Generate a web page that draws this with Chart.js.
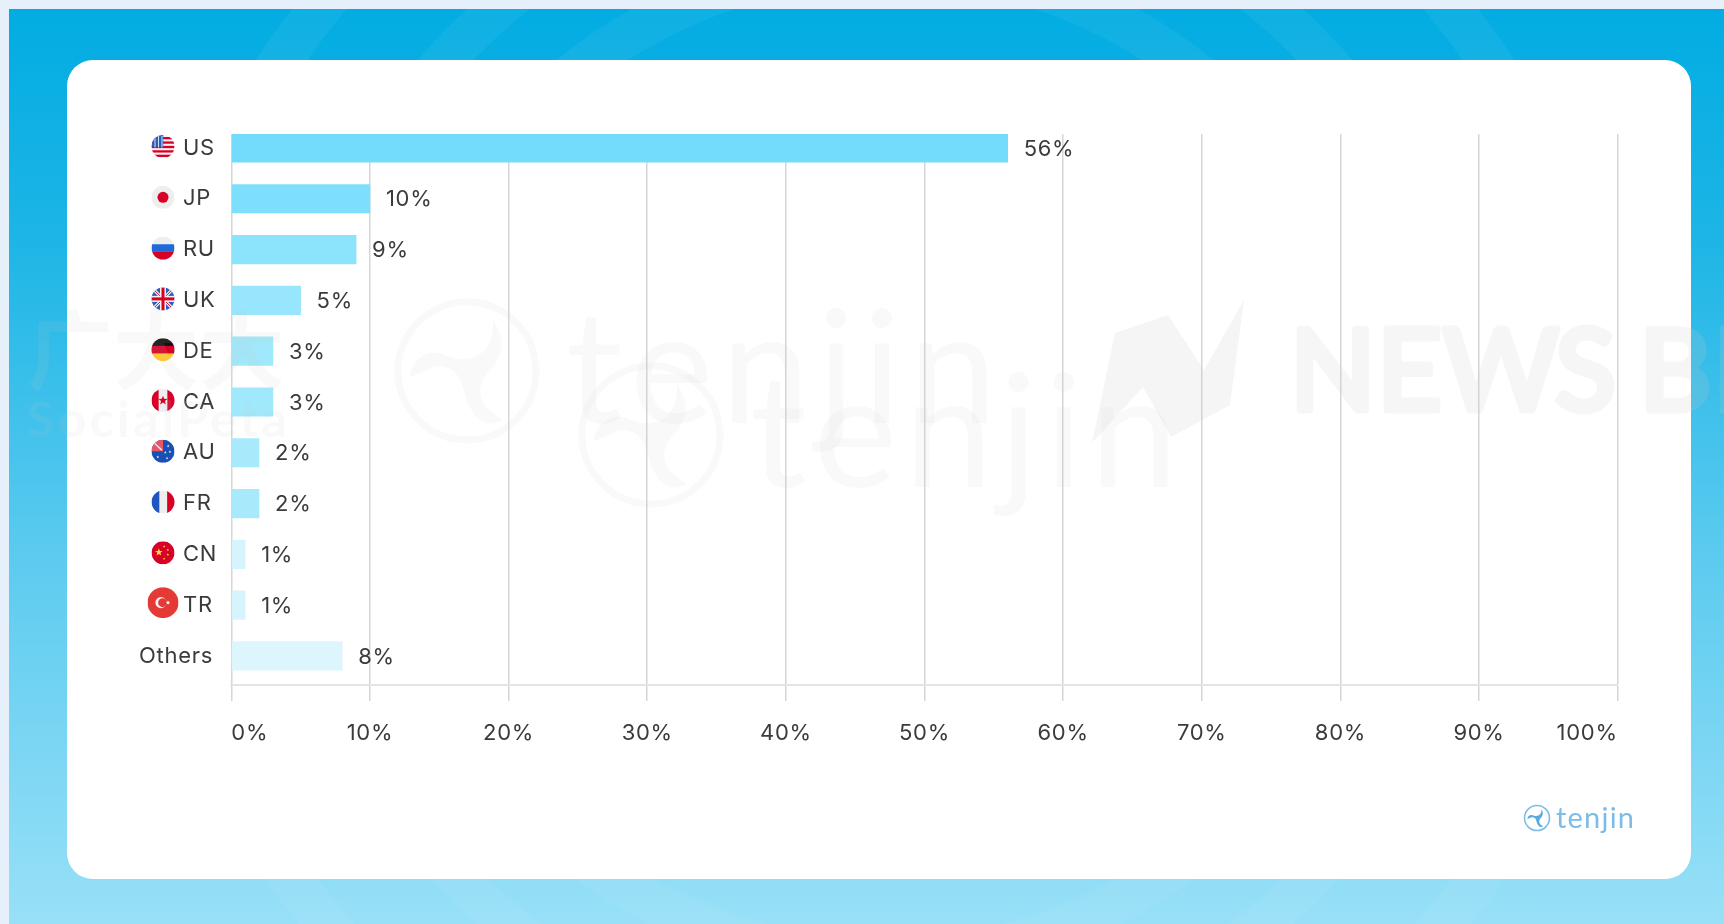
<!DOCTYPE html>
<html>
<head>
<meta charset="utf-8">
<title>Share by country</title>
<script src="https://cdn.jsdelivr.net/npm/chart.js@4"></script>
<style>
  html, body { margin: 0; padding: 0; width: 1724px; height: 924px; overflow: hidden; background: #e6f0fb; }
  .panel { position: absolute; left: 9px; top: 9px; width: 1715px; height: 915px;
           background: linear-gradient(180deg, #02ace2 0%, #1db5e6 25%, #5ccbef 60%, #98e0f7 100%); overflow: hidden; }
  .layer { position: absolute; left: 0; top: 0; }
  .card { position: absolute; left: 67px; top: 60px; width: 1624px; height: 819px; background: #fff;
          border-radius: 26px; }
  canvas { position: absolute; left: 0; top: 0; }
</style>
</head>
<body>
<div class="panel"></div>
<svg class="layer" width="1724" height="924" viewBox="0 0 1724 924" style="clip-path: inset(9px 0 0 9px)">
  <g fill="none" stroke="#fff" stroke-opacity="0.055">
    <circle cx="885" cy="462" r="498" stroke-width="42"/>
    <circle cx="885" cy="462" r="596" stroke-width="41"/>
    <circle cx="885" cy="462" r="725" stroke-width="43"/>
  </g>
</svg>
<div class="card"></div>
<canvas id="chart" width="1724" height="924"></canvas>
<svg class="layer" width="1724" height="924" viewBox="0 0 1724 924" style="pointer-events:none">
  <defs>
    <g id="swirl">
      <path d="M26 -51 C40 -30 35 -12 20 3 C10 15 8 36 36 48 C26 56 12 54 4 38 C-3 26 -3 16 -8 6 C-14 -4 -30 -8 -38 -2 L-57 6 C-56 -14 -36 -24 -20 -15 C-4 -8 28 -10 26 -51 Z"/>
    </g>
  </defs>
  <g fill="#c8c8c8" fill-opacity="0.11" font-family="Lato" font-weight="400">
    <circle cx="467" cy="371" r="69" fill="none" stroke="#c8c8c8" stroke-opacity="0.11" stroke-width="7"/>
    <use href="#swirl" transform="translate(467 371)"/>
    <text x="566" y="423" font-size="158" textLength="431" lengthAdjust="spacing">tenjin</text>
    <circle cx="651" cy="435" r="69" fill="none" stroke="#c8c8c8" stroke-opacity="0.11" stroke-width="7"/>
    <use href="#swirl" transform="translate(651 435)"/>
    <text x="750" y="487" font-size="158" textLength="428" lengthAdjust="spacing">tenjin</text>
    <path d="M1115 333 L1168 315 L1204 370 L1244 300 L1230 405 L1171 437 L1143 387 L1092 443 Z" fill-opacity="0.18"/>
    <text x="27" y="383" font-size="86" font-weight="700" font-family="Noto Sans CJK SC">广大大</text>
    <text x="27" y="437" font-size="50" font-weight="700" font-family="Lato" textLength="260" lengthAdjust="spacing">SocialPeta</text>
  </g>
  <text x="1290 1377 1443 1555 1639 1713" y="410" font-size="112" font-weight="400" font-family="Lato"
        fill="#c8c8c8" stroke="#c8c8c8" stroke-width="7" stroke-linejoin="round" opacity="0.17">NEWSBE</text>
  <!-- Brand mark, lower right of the card -->
  <circle cx="1537" cy="818" r="12.5" fill="none" stroke="#7cbde8" stroke-width="1.6"/>
  <use href="#swirl" transform="translate(1537 818) scale(0.17)" fill="#5aa9df"/>
  <text x="1556" y="828" font-family="Lato" font-weight="400" font-size="29" fill="#7cbde8" textLength="78" lengthAdjust="spacing">tenjin</text>
</svg>
<script>
// Install share by country
const categories = ['US', 'JP', 'RU', 'UK', 'DE', 'CA', 'AU', 'FR', 'CN', 'TR', 'Others'];
const shares = [56, 10, 9, 5, 3, 3, 2, 2, 1, 1, 8];
const barColors = ['#73dcfc', '#7edffc', '#8be3fc', '#97e6fd', '#a0e8fb', '#a0e8fb', '#a8eafc', '#a8eafc',
                   '#d5f4fe', '#d5f4fe', '#ddf6fe'];
const axisTicks = [0, 10, 20, 30, 40, 50, 60, 70, 80, 90, 100];

const TEXT = '#3b3b3b';
const FONT = { family: 'Inter', size: 22, weight: '400' };
const fontString = `${FONT.weight} ${FONT.size}px ${FONT.family}`;

function star(ctx, x, y, r, color) {
  ctx.fillStyle = color;
  ctx.beginPath();
  for (let i = 0; i < 10; i++) {
    const a = -Math.PI / 2 + i * Math.PI / 5;
    const d = i % 2 ? r * 0.42 : r;
    ctx.lineTo(x + Math.cos(a) * d, y + Math.sin(a) * d);
  }
  ctx.closePath();
  ctx.fill();
}

// Round flag painters; each works in a unit where the circle radius is r.
const flagPainters = {
  US(c, r) {
    c.fillStyle = '#f4f4f4'; c.fillRect(-r, -r, 2 * r, 2 * r);
    c.fillStyle = '#d80027';
    for (let i = -r + 2; i < r; i += r / 2.6) c.fillRect(-r, i, 2 * r, r / 5);
    c.fillStyle = '#2a5fbf'; c.fillRect(-r, -r, r * 1.02, r * 1.02);
    c.fillStyle = '#cfe0f6';
    for (let i = 0; i < 3; i++) c.fillRect(-r + 3 + i * 3.5, -r + 1, 1, r);
  },
  JP(c, r) {
    c.fillStyle = '#eeeeee'; c.fillRect(-r, -r, 2 * r, 2 * r);
    c.fillStyle = '#d80027'; c.beginPath(); c.arc(0, 0, r * 0.48, 0, 7); c.fill();
  },
  RU(c, r) {
    c.fillStyle = '#eeeeee'; c.fillRect(-r, -r, 2 * r, 2 * r);
    c.fillStyle = '#1f6adb'; c.fillRect(-r, -r / 3, 2 * r, 2 * r / 3);
    c.fillStyle = '#d80027'; c.fillRect(-r, r / 3, 2 * r, r);
  },
  UK(c, r) {
    c.fillStyle = '#2a5fbf'; c.fillRect(-r, -r, 2 * r, 2 * r);
    c.strokeStyle = '#f4f4f4'; c.lineWidth = 3;
    c.beginPath(); c.moveTo(-r, -r); c.lineTo(r, r); c.moveTo(r, -r); c.lineTo(-r, r); c.stroke();
    c.strokeStyle = '#d80027'; c.lineWidth = 1;
    c.beginPath(); c.moveTo(-r, -r); c.lineTo(r, r); c.moveTo(r, -r); c.lineTo(-r, r); c.stroke();
    c.fillStyle = '#f4f4f4'; c.fillRect(-r, -3, 2 * r, 6); c.fillRect(-3, -r, 6, 2 * r);
    c.fillStyle = '#d80027'; c.fillRect(-r, -1.5, 2 * r, 3); c.fillRect(-1.5, -r, 3, 2 * r);
  },
  DE(c, r) {
    c.fillStyle = '#111111'; c.fillRect(-r, -r, 2 * r, 2 * r / 1.5);
    c.fillStyle = '#d80027'; c.fillRect(-r, -r / 3, 2 * r, 2 * r / 3);
    c.fillStyle = '#ffc92e'; c.fillRect(-r, r / 3, 2 * r, r);
  },
  CA(c, r) {
    c.fillStyle = '#eeeeee'; c.fillRect(-r, -r, 2 * r, 2 * r);
    c.fillStyle = '#d80027'; c.fillRect(-r, -r, r * 0.62, 2 * r); c.fillRect(r * 0.38, -r, r, 2 * r);
    star(c, 0, 0, r * 0.42, '#d80027');
  },
  AU(c, r) {
    c.fillStyle = '#1a4fb4'; c.fillRect(-r, -r, 2 * r, 2 * r);
    c.fillStyle = '#e8566a'; c.fillRect(-r, -r, r, r);
    c.strokeStyle = '#f1dfe6'; c.lineWidth = 1.5;
    c.beginPath(); c.moveTo(-r * 0.85, -r * 0.8); c.lineTo(-r * 0.1, -r * 0.1); c.stroke();
    [[0.45, -0.45], [0.6, 0.05], [0.2, 0.1], [0.35, 0.6], [-0.45, 0.5]].forEach(p =>
      star(c, p[0] * r, p[1] * r, 1.5, '#dfe9fb'));
  },
  FR(c, r) {
    c.fillStyle = '#eeeeee'; c.fillRect(-r, -r, 2 * r, 2 * r);
    c.fillStyle = '#1f56c3'; c.fillRect(-r, -r, r * 0.68, 2 * r);
    c.fillStyle = '#d80027'; c.fillRect(r * 0.36, -r, r, 2 * r);
  },
  CN(c, r) {
    c.fillStyle = '#d80027'; c.fillRect(-r, -r, 2 * r, 2 * r);
    star(c, -r * 0.36, -r * 0.05, 4, '#ffda44');
    [[0.1, -0.55], [0.42, -0.25], [0.42, 0.15], [0.1, 0.5]].forEach(p =>
      star(c, p[0] * r, p[1] * r, 1.4, '#ffda44'));
  },
  TR(c, r) {
    c.fillStyle = '#e53935'; c.fillRect(-r, -r, 2 * r, 2 * r);
    c.fillStyle = '#f7f7f7'; c.beginPath(); c.arc(-2, 0, 5.6, 0, 7); c.fill();
    c.fillStyle = '#e53935'; c.beginPath(); c.arc(-0.4, 0, 4.5, 0, 7); c.fill();
    star(c, 5, 0, 2.4, '#f7f7f7');
  }
};

// Country codes with their flags, plus the percentage after each bar.
const rowDecorations = {
  id: 'rowDecorations',
  beforeDraw(chart) { chart.ctx.letterSpacing = '0.7px'; },
  afterDatasetsDraw(chart) {
    const ctx = chart.ctx;
    const bars = chart.getDatasetMeta(0).data;
    const yScale = chart.scales.y;
    ctx.save();
    ctx.font = fontString;
    ctx.textBaseline = 'middle';
    ctx.fillStyle = TEXT;
    categories.forEach((code, i) => {
      const y = yScale.getPixelForValue(i);
      const isOther = !flagPainters[code];
      ctx.textAlign = 'left';
      ctx.fillStyle = TEXT;
      ctx.fillText(code, isOther ? 139 : 183, y);
      ctx.fillText(shares[i] + '%', bars[i].x + 16, y + 1);
      if (!isOther) {
        const r = code === 'TR' ? 15.5 : 11.5;
        ctx.save();
        ctx.translate(163, y - (code === 'TR' ? 2.5 : 1.5));
        ctx.beginPath();
        ctx.arc(0, 0, r, 0, Math.PI * 2);
        ctx.clip();
        flagPainters[code](ctx, r);
        ctx.restore();
      }
    });
    ctx.restore();
  }
};

new Chart(document.getElementById('chart'), {
  type: 'bar',
  data: {
    labels: categories,
    datasets: [{
      data: shares.map((v, i) => ({ x: v, y: i })),
      backgroundColor: barColors,
      borderWidth: 0,
      barThickness: 28.5
    }]
  },
  plugins: [rowDecorations],
  options: {
    indexAxis: 'y',
    responsive: false,
    animation: false,
    layout: { padding: { left: 231.3, right: 106.3, top: 134, bottom: 179 } },
    plugins: { legend: { display: false }, tooltip: { enabled: false } },
    scales: {
      x: {
        type: 'linear',
        position: 'bottom',
        min: 0,
        max: 100,
        afterBuildTicks(scale) { scale.ticks = axisTicks.map(value => ({ value })); },
        afterFit(scale) { scale.height = 60; },
        grid: { color: '#d6d6d6', lineWidth: 1.5, tickLength: 16, drawTicks: true },
        border: { color: '#e6e2e8', width: 2 },
        ticks: {
          align: 'inner',
          autoSkip: false,
          maxRotation: 0,
          padding: 19,
          color: TEXT,
          font: FONT,
          callback: v => v + '%'
        }
      },
      y: {
        type: 'linear',
        reverse: true,
        offset: false,
        bounds: 'data',
        min: -0.2756,
        max: 10.572,
        afterBuildTicks(scale) { scale.ticks = categories.map((_, value) => ({ value })); },
        afterFit(scale) { scale.width = 0; },
        grid: { display: false, offset: false },
        border: { display: false },
        ticks: { display: false }
      }
    }
  }
});
</script>
</body>
</html>
